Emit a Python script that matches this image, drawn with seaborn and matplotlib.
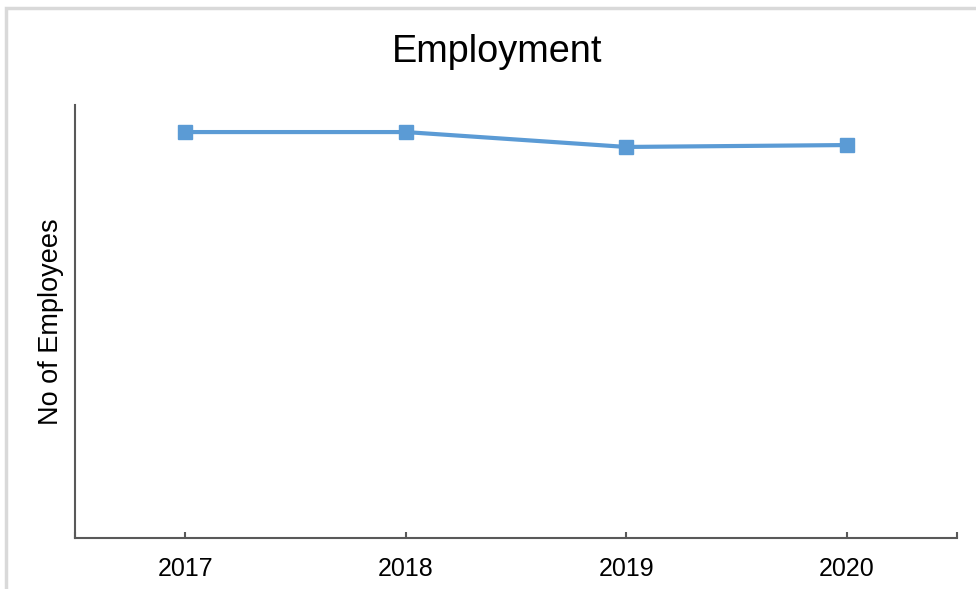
import matplotlib
matplotlib.use("Agg")
import matplotlib.pyplot as plt
import seaborn as sns
import pandas as pd
from matplotlib.patches import Rectangle

years = ["2017", "2018", "2019", "2020"]
employees = [1500, 1500, 1445, 1452]

sns.set_style("white", {"xtick.direction": "in", "axes.labelcolor": "black",
                        "text.color": "black", "xtick.color": "black"})
plt.rcParams['font.family'] = ['Liberation Sans', 'DejaVu Sans']

df = pd.DataFrame({"Year": years, "Employees": employees})

fig = plt.figure(figsize=(9.76, 5.89), dpi=100)
ax = fig.add_axes([75/976, 1-538/589, (957-75)/976, (538-105)/589])

sns.lineplot(data=df, x="Year", y="Employees", ax=ax, color="#5B9BD5",
             linewidth=3, marker="s", markersize=10.5, markeredgecolor="#5B9BD5",
             markeredgewidth=1)

ax.set_xlim(-0.5, 3.5)
ax.set_ylim(0, 1600)
ax.set_yticks([])
ax.set_xticks(range(len(years)))
ax.set_xticklabels(years, fontsize=18)
ax.set_xticks([-0.5, 3.5], minor=True)
ax.tick_params(axis="x", which="both", direction="in", length=4, width=1.5,
               color="#595959", labelcolor="black", pad=14, bottom=True)
ax.set_xlabel("")
ax.set_ylabel("No of Employees", fontsize=19.5, labelpad=8, color="black")
fig.text(497/976, 1 - 52/589, "Employment", fontsize=27.3, color="black",
         ha="center", va="center")

for s in ["top", "right"]:
    ax.spines[s].set_visible(False)
for s in ["left", "bottom"]:
    ax.spines[s].set_color("#595959")
    ax.spines[s].set_linewidth(1.5)

fig.patches.append(Rectangle((6/976, -0.1), 1.2, 1 - 8/589 + 0.1,
                             transform=fig.transFigure, fill=False,
                             edgecolor="#d9d9d9", linewidth=2.5, zorder=0))

fig.savefig("out.png", dpi=100)
